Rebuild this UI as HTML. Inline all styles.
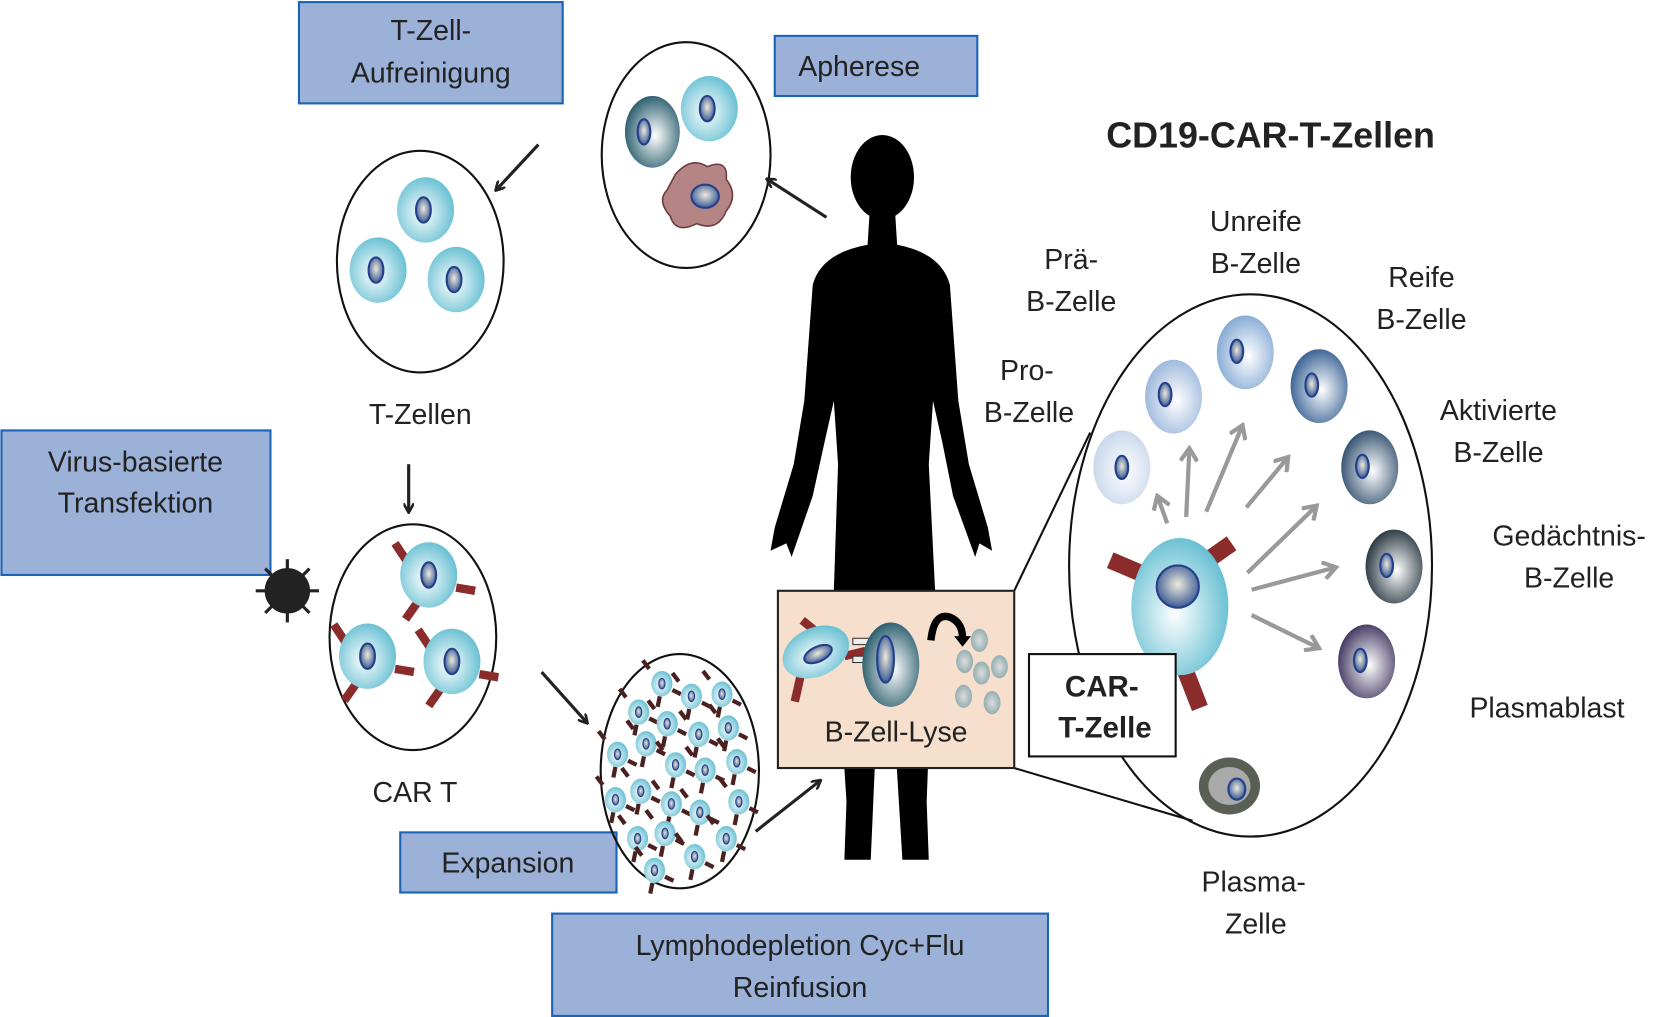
<!DOCTYPE html>
<html><head><meta charset="utf-8"><style>
html,body{margin:0;padding:0;background:#fff;}
svg{display:block;}
text{font-family:"Liberation Sans",sans-serif;fill:#222;}
</style></head><body>
<svg width="1655" height="1017" viewBox="0 0 1568 964" xmlns="http://www.w3.org/2000/svg">
<defs>
<radialGradient id="cy" cx="45%" cy="55%" r="60%"><stop offset="0" stop-color="#fff"/><stop offset="1" stop-color="#5fbcd0"/></radialGradient>
<radialGradient id="nu" cx="50%" cy="45%" r="60%"><stop offset="0" stop-color="#eeeadb"/><stop offset="1" stop-color="#2c4f90"/></radialGradient>
<radialGradient id="dk" cx="55%" cy="55%" r="60%"><stop offset="0" stop-color="#fff"/><stop offset="1" stop-color="#1f5566"/></radialGradient>
<radialGradient id="b1" cx="55%" cy="55%" r="60%"><stop offset="0" stop-color="#fff"/><stop offset="1" stop-color="#c5d5ea"/></radialGradient>
<radialGradient id="b2" cx="55%" cy="55%" r="60%"><stop offset="0" stop-color="#fff"/><stop offset="1" stop-color="#97b4da"/></radialGradient>
<radialGradient id="b3" cx="55%" cy="55%" r="60%"><stop offset="0" stop-color="#fff"/><stop offset="1" stop-color="#7ea5d2"/></radialGradient>
<radialGradient id="b4" cx="55%" cy="55%" r="60%"><stop offset="0" stop-color="#fff"/><stop offset="1" stop-color="#2f5a8f"/></radialGradient>
<radialGradient id="b5" cx="55%" cy="55%" r="60%"><stop offset="0" stop-color="#fff"/><stop offset="1" stop-color="#2b4a6a"/></radialGradient>
<radialGradient id="b6" cx="55%" cy="55%" r="60%"><stop offset="0" stop-color="#fff"/><stop offset="1" stop-color="#1e2e38"/></radialGradient>
<radialGradient id="b7" cx="55%" cy="55%" r="60%"><stop offset="0" stop-color="#fff"/><stop offset="1" stop-color="#3a2f5a"/></radialGradient>
<radialGradient id="gr" cx="50%" cy="50%" r="60%"><stop offset="0" stop-color="#ddd"/><stop offset="1" stop-color="#85a5a8"/></radialGradient>
<marker id="ak" markerWidth="10" markerHeight="10" refX="8" refY="5" orient="auto" markerUnits="userSpaceOnUse"><path d="M0,0 L9,5 L0,10" fill="none" stroke="#222" stroke-width="2.5"/></marker>
<marker id="ag" markerWidth="16" markerHeight="18" refX="12" refY="9" orient="auto" markerUnits="userSpaceOnUse"><path d="M1,1 L13,9 L1,17" fill="none" stroke="#999" stroke-width="4"/></marker>
<g id="tc"><ellipse rx="27" ry="31" fill="url(#cy)"/><ellipse cx="-2" rx="7" ry="12" fill="url(#nu)" stroke="#24408a" stroke-width="2"/></g>
<g id="ct"><line x1="-32" y1="-30" x2="-20" y2="-12" stroke="#8b2c2c" stroke-width="8"/><line x1="26" y1="12" x2="44" y2="15" stroke="#8b2c2c" stroke-width="8"/><line x1="-10" y1="25" x2="-22" y2="42" stroke="#8b2c2c" stroke-width="8"/><ellipse rx="27" ry="31" fill="url(#cy)"/><ellipse rx="7" ry="12" fill="url(#nu)" stroke="#24408a" stroke-width="2"/></g>
<g id="mc"><line x1="-12" y1="-14" x2="-18" y2="-22" stroke="#4a2020" stroke-width="4"/><line x1="10" y1="6" x2="18" y2="10" stroke="#4a2020" stroke-width="4"/><line x1="-2" y1="12" x2="-4" y2="22" stroke="#4a2020" stroke-width="4"/><ellipse rx="10" ry="12" fill="url(#cy)"/><ellipse rx="3" ry="5" fill="url(#nu)" stroke="#24408a" stroke-width="1"/></g>
</defs>

<g fill="#9bb1d8" stroke="#1b63b5" stroke-width="2">
<rect x="283" y="2" width="250" height="96"/>
<rect x="734" y="34" width="192" height="57"/>
<rect x="1" y="408" width="255" height="137"/>
<rect x="379" y="789" width="205" height="57"/>
<rect x="523" y="866" width="470" height="97"/>
</g>
<g font-size="27" text-anchor="middle">
<text x="408" y="38">T-Zell-</text>
<text x="408" y="78">Aufreinigung</text>
<text x="814" y="72">Apherese</text>
<text x="128" y="447">Virus-basierte</text>
<text x="128" y="486">Transfektion</text>
<text x="481" y="827">Expansion</text>
<text x="758" y="905">Lymphodepletion Cyc+Flu</text>
<text x="758" y="945">Reinfusion</text>
<text x="398" y="402">T-Zellen</text>
<text x="393" y="760">CAR T</text>
<text x="1015" y="255">Prä-</text>
<text x="1015" y="295">B-Zelle</text>
<text x="1190" y="219">Unreife</text>
<text x="1190" y="259">B-Zelle</text>
<text x="1347" y="272">Reife</text>
<text x="1347" y="312">B-Zelle</text>
<text x="973" y="360">Pro-</text>
<text x="975" y="400">B-Zelle</text>
<text x="1420" y="398">Aktivierte</text>
<text x="1420" y="438">B-Zelle</text>
<text x="1487" y="517">Gedächtnis-</text>
<text x="1487" y="557">B-Zelle</text>
<text x="1466" y="680">Plasmablast</text>
<text x="1188" y="845">Plasma-</text>
<text x="1190" y="885">Zelle</text>
</g>
<text x="1204" y="140" font-size="34" font-weight="bold" text-anchor="middle">CD19-CAR-T-Zellen</text>

<g fill="none" stroke="#111" stroke-width="2">
<ellipse cx="650" cy="147" rx="80" ry="107"/>
<ellipse cx="398" cy="248" rx="79" ry="105"/>
<ellipse cx="391" cy="604" rx="79" ry="107"/>
<ellipse cx="644" cy="731" rx="75" ry="111"/>
<ellipse cx="1185" cy="536" rx="172" ry="257" fill="#fff"/>
</g>

<ellipse cx="618" cy="125" rx="26" ry="34" fill="url(#dk)"/><ellipse cx="610" cy="125" rx="6" ry="12" fill="url(#nu)" stroke="#24408a" stroke-width="2"/>
<use href="#tc" x="672" y="103"/>
<path d="M640,165 Q655,148 670,158 Q690,150 688,170 Q700,185 688,200 Q680,220 660,212 Q640,222 635,205 Q622,190 632,180 Z" fill="#b58585" stroke="#6b3d3d" stroke-width="1.5"/>
<ellipse cx="668" cy="186" rx="13" ry="11" fill="url(#nu)" stroke="#24408a" stroke-width="2"/>
<use href="#tc" x="403" y="199"/><use href="#tc" x="358" y="256"/><use href="#tc" x="432" y="265"/>
<use href="#ct" x="406" y="545"/><use href="#ct" x="348" y="622"/><use href="#ct" x="428" y="627"/>
<g fill="#222" stroke="#222" stroke-width="3">
<circle cx="272" cy="560" r="20"/>
<line x1="272" y1="530" x2="272" y2="590"/><line x1="242" y1="560" x2="302" y2="560"/>
<line x1="251" y1="539" x2="293" y2="581"/><line x1="293" y1="539" x2="251" y2="581"/>
</g>
<g>
<use href="#mc" x="627" y="648"/><use href="#mc" x="655" y="660"/><use href="#mc" x="684" y="658"/><use href="#mc" x="605" y="675"/>
<use href="#mc" x="632" y="686"/><use href="#mc" x="662" y="696"/><use href="#mc" x="690" y="690"/><use href="#mc" x="585" y="715"/>
<use href="#mc" x="612" y="705"/><use href="#mc" x="640" y="725"/><use href="#mc" x="668" y="730"/><use href="#mc" x="698" y="722"/>
<use href="#mc" x="583" y="758"/><use href="#mc" x="607" y="750"/><use href="#mc" x="636" y="762"/><use href="#mc" x="663" y="770"/>
<use href="#mc" x="700" y="760"/><use href="#mc" x="604" y="795"/><use href="#mc" x="630" y="790"/><use href="#mc" x="658" y="812"/>
<use href="#mc" x="688" y="795"/><use href="#mc" x="620" y="825"/>
</g>

<g fill="#000">
<ellipse cx="836" cy="168" rx="30" ry="40"/>
<path d="M824,200 L848,200 L850,232 Q892,240 900,270 L908,380 L918,440 L936,500 L940,522 L928,515 L924,528 L903,470 L893,420 L884,380 L880,440 L886,560 L882,650 L878,760 L880,815 L855,815 L848,700 L842,600 L836,600 L830,700 L825,815 L800,815 L802,760 L795,650 L790,560 L794,440 L790,380 L781,420 L770,470 L750,528 L745,515 L730,522 L734,500 L752,440 L762,380 L770,270 Q778,240 822,232 Z"/>
</g>

<g stroke="#222" stroke-width="3" fill="none" marker-end="url(#ak)">
<line x1="510" y1="137" x2="470" y2="180"/>
<line x1="783" y1="206" x2="727" y2="170"/>
<line x1="387" y1="440" x2="387" y2="485"/>
<line x1="513" y1="637" x2="556" y2="685"/>
<line x1="716" y1="788" x2="777" y2="740"/>
</g>

<line x1="961" y1="560" x2="1033" y2="410" stroke="#111" stroke-width="2"/>
<line x1="961" y1="728" x2="1130" y2="778" stroke="#111" stroke-width="2"/>

<rect x="737" y="560" width="224" height="168" fill="#f6e0cd" stroke="#222" stroke-width="2"/>
<line x1="800" y1="622" x2="820" y2="617" stroke="#8b2c2c" stroke-width="8"/>
<line x1="762" y1="625" x2="753" y2="665" stroke="#8b2c2c" stroke-width="8"/>
<line x1="760" y1="588" x2="775" y2="600" stroke="#8b2c2c" stroke-width="8"/>
<ellipse cx="773" cy="618" rx="33" ry="23" transform="rotate(-25 773 618)" fill="url(#cy)"/>
<ellipse cx="775" cy="620" rx="14" ry="7" transform="rotate(-25 775 620)" fill="url(#nu)" stroke="#24408a" stroke-width="2"/>
<rect x="808" y="605" width="20" height="6" fill="#eee" stroke="#333"/><rect x="808" y="622" width="20" height="6" fill="#eee" stroke="#333"/>
<ellipse cx="844" cy="630" rx="27" ry="40" fill="url(#dk)"/>
<ellipse cx="839" cy="625" rx="8" ry="22" fill="url(#nu)" stroke="#24408a" stroke-width="2"/>
<path d="M882,607 Q885,580 900,585 Q912,590 912,605" fill="none" stroke="#000" stroke-width="7"/>
<path d="M904,603 L920,603 L912,613 Z" fill="#000"/>
<g fill="url(#gr)"><ellipse cx="928" cy="607" rx="8" ry="11"/><ellipse cx="914" cy="627" rx="8" ry="11"/><ellipse cx="930" cy="638" rx="8" ry="11"/><ellipse cx="947" cy="632" rx="8" ry="11"/><ellipse cx="913" cy="660" rx="8" ry="11"/><ellipse cx="940" cy="666" rx="8" ry="11"/></g>
<text x="849" y="703" font-size="27" text-anchor="middle">B-Zell-Lyse</text>

<ellipse cx="1063" cy="443" rx="27" ry="35" fill="url(#b1)"/><ellipse cx="1063" cy="443" rx="6" ry="11" fill="url(#nu)" stroke="#24408a" stroke-width="2"/>
<ellipse cx="1112" cy="376" rx="27" ry="35" fill="url(#b2)"/><ellipse cx="1104" cy="374" rx="6" ry="11" fill="url(#nu)" stroke="#24408a" stroke-width="2"/>
<ellipse cx="1180" cy="334" rx="27" ry="35" fill="url(#b3)"/><ellipse cx="1172" cy="333" rx="6" ry="11" fill="url(#nu)" stroke="#24408a" stroke-width="2"/>
<ellipse cx="1250" cy="366" rx="27" ry="35" fill="url(#b4)"/><ellipse cx="1243" cy="365" rx="6" ry="11" fill="url(#nu)" stroke="#24408a" stroke-width="2"/>
<ellipse cx="1298" cy="443" rx="27" ry="35" fill="url(#b5)"/><ellipse cx="1291" cy="442" rx="6" ry="11" fill="url(#nu)" stroke="#24408a" stroke-width="2"/>
<ellipse cx="1321" cy="537" rx="27" ry="35" fill="url(#b6)"/><ellipse cx="1314" cy="536" rx="6" ry="11" fill="url(#nu)" stroke="#24408a" stroke-width="2"/>
<ellipse cx="1295" cy="627" rx="27" ry="35" fill="url(#b7)"/><ellipse cx="1289" cy="626" rx="6" ry="11" fill="url(#nu)" stroke="#24408a" stroke-width="2"/>
<ellipse cx="1165" cy="745" rx="29" ry="27" fill="#5a5f55"/><ellipse cx="1165" cy="745" rx="20" ry="18" fill="#aaa"/><ellipse cx="1172" cy="748" rx="8" ry="10" fill="url(#nu)" stroke="#24408a" stroke-width="2"/>
<g stroke="#999" stroke-width="4" fill="none" marker-end="url(#ag)">
<line x1="1106" y1="496" x2="1097" y2="471"/>
<line x1="1124" y1="490" x2="1127" y2="426"/>
<line x1="1143" y1="485" x2="1177" y2="404"/>
<line x1="1181" y1="481" x2="1220" y2="434"/>
<line x1="1182" y1="543" x2="1247" y2="480"/>
<line x1="1186" y1="559" x2="1265" y2="538"/>
<line x1="1186" y1="583" x2="1249" y2="614"/>
</g>
<g stroke="#8b2c2c" stroke-width="16">
<line x1="1052" y1="531" x2="1085" y2="545"/>
<line x1="1167" y1="515" x2="1140" y2="534"/>
<line x1="1121" y1="630" x2="1137" y2="671"/>
</g>
<ellipse cx="1118" cy="575" rx="46" ry="65" fill="url(#cy)"/>
<circle cx="1116" cy="556" r="20" fill="url(#nu)" stroke="#24408a" stroke-width="2"/>
<rect x="975" y="620" width="139" height="97" fill="#fff" stroke="#111" stroke-width="2"/>
<text x="1044" y="660" font-size="28" font-weight="bold" text-anchor="middle">CAR-</text>
<text x="1047" y="699" font-size="28" font-weight="bold" text-anchor="middle">T-Zelle</text>
</svg>
</body></html>
